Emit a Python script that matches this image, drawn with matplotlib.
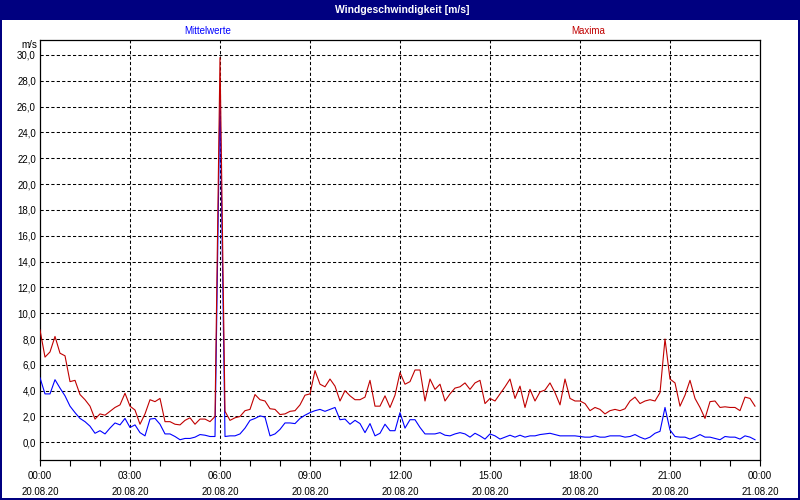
import numpy as np
import matplotlib
matplotlib.use("Agg")
import matplotlib.pyplot as plt
from matplotlib.patches import Rectangle
from matplotlib.ticker import MultipleLocator, FixedLocator

# ---- data (10-minute values, 20.08.20 00:00 .. 23:50) ----
maxima = [
    8.7, 6.6, 7.0, 8.2, 6.9, 6.7, 4.7, 4.8, 3.7, 3.3, 2.8, 1.8, 2.2, 2.1, 2.4, 2.7, 2.9, 3.8,
    2.8, 2.5, 1.4, 2.2, 3.3, 3.15, 3.4, 1.6, 1.6, 1.4, 1.35, 1.7, 1.9, 1.4, 1.8, 1.8, 1.6, 2.0,
    29.8, 2.4, 1.7, 1.9, 2.0, 2.45, 2.55, 3.7, 3.3, 3.2, 2.6, 2.55, 2.15, 2.2, 2.4, 2.45, 2.9, 3.65,
    3.75, 5.55, 4.5, 4.3, 4.9, 4.35, 3.2, 4.0, 3.6, 3.3, 3.3, 3.5, 4.8, 2.8, 2.8, 3.6, 2.7, 3.65,
    5.4, 4.5, 4.7, 5.6, 5.6, 3.2, 4.9, 4.1, 4.5, 3.2, 3.75, 4.2, 4.3, 4.6, 4.1, 4.6, 4.8, 3.0,
    3.4, 3.2, 3.75, 4.3, 4.9, 3.4, 4.35, 2.7, 4.1, 3.2, 3.9, 4.05, 4.6, 3.85, 2.9, 4.9, 3.4, 3.2,
    3.2, 3.0, 2.45, 2.7, 2.55, 2.2, 2.45, 2.55, 2.45, 2.6, 3.2, 3.5, 3.0, 3.2, 3.3, 3.2, 3.85, 8.0,
    4.9, 4.6, 2.8, 3.65, 4.8, 3.4, 2.7, 1.85, 3.15, 3.2, 2.7, 2.75, 2.7, 2.7, 2.45, 3.5, 3.4, 2.8,
]
mittel = [
    5.0, 3.75, 3.75, 4.85, 4.2, 3.6, 2.8, 2.3, 1.85, 1.6, 1.25, 0.7, 0.9, 0.65, 1.1, 1.5, 1.35, 1.85,
    1.15, 1.35, 0.75, 0.5, 1.8, 1.85, 1.4, 0.65, 0.65, 0.45, 0.2, 0.3, 0.3, 0.4, 0.6, 0.55, 0.45, 0.45,
    26.9, 0.45, 0.5, 0.5, 0.65, 1.1, 1.7, 1.85, 2.05, 1.95, 0.5, 0.65, 1.0, 1.5, 1.5, 1.45, 1.85, 2.1,
    2.3, 2.45, 2.55, 2.4, 2.55, 2.7, 1.75, 1.8, 1.4, 1.7, 1.45, 0.75, 1.45, 0.5, 0.7, 1.4, 0.9, 0.9,
    2.3, 1.1, 1.75, 1.75, 1.15, 0.65, 0.65, 0.65, 0.75, 0.55, 0.5, 0.65, 0.75, 0.65, 0.4, 0.7, 0.5, 0.25,
    0.65, 0.5, 0.25, 0.4, 0.55, 0.4, 0.55, 0.4, 0.5, 0.5, 0.6, 0.65, 0.7, 0.6, 0.5, 0.5, 0.5, 0.5,
    0.45, 0.4, 0.4, 0.5, 0.4, 0.4, 0.5, 0.5, 0.5, 0.4, 0.45, 0.6, 0.4, 0.25, 0.4, 0.7, 0.85, 2.7,
    0.95, 0.45, 0.4, 0.4, 0.25, 0.4, 0.6, 0.4, 0.4, 0.3, 0.2, 0.45, 0.4, 0.4, 0.25, 0.5, 0.4, 0.2,
]
hours = np.arange(len(maxima)) / 6.0

x_tick_hours = [0, 3, 6, 9, 12, 15, 18, 21, 24]
x_tick_labels = ["00:00\n20.08.20", "03:00\n20.08.20", "06:00\n20.08.20", "09:00\n20.08.20",
                 "12:00\n20.08.20", "15:00\n20.08.20", "18:00\n20.08.20", "21:00\n20.08.20",
                 "00:00\n21.08.20"]
y_ticks = np.arange(0, 31, 2)

title = "Windgeschwindigkeit [m/s]"
label_mittel = "Mittelwerte"
label_max = "Maxima"

NAVY = "#000080"
BLUE = "#0000FF"
RED = "#C00000"
FONT = "Liberation Sans"

plt.rcParams["font.family"] = [FONT, "DejaVu Sans"]
plt.rcParams["lines.scale_dashes"] = False

W, H = 800, 500
fig = plt.figure(figsize=(W / 100, H / 100), dpi=100)
fig.patch.set_facecolor("white")

def px(x0, y0, w, h):
    """figure-fraction rect from pixel coords (top-left origin)"""
    return (x0 / W, 1 - (y0 + h) / H, w / W, h / H)

ax = fig.add_axes(px(40, 40, 720, 420))
ax.plot(hours, mittel, color=BLUE, lw=0.8, zorder=3)
ax.plot(hours, maxima, color=RED, lw=0.8, zorder=4)

ax.set_xlim(0, 24)
ax.set_ylim(-1.37, 31.16)

ax.xaxis.set_major_locator(FixedLocator(x_tick_hours))
ax.xaxis.set_minor_locator(MultipleLocator(1))
ax.set_xticklabels(x_tick_labels, fontsize=7, linespacing=1.75)
ax.set_yticks(y_ticks)
ax.set_yticklabels([f"{v:.1f}".replace(".", ",") for v in y_ticks], fontsize=7)

ax.tick_params(axis="x", which="both", direction="out", length=4, width=0.8, pad=4, colors="black")
ax.tick_params(axis="y", which="both", length=0, pad=3)

grid_kw = dict(color="black", lw=0.75, linestyle=(0, (2.3, 1.6)), zorder=2)
for v in y_ticks:
    ax.axhline(v, **grid_kw)
for h in x_tick_hours[1:-1]:
    ax.axvline(h, **grid_kw)

for s in ax.spines.values():
    s.set_color("black")
    s.set_linewidth(0.9)

# title bar and frame
fig.patches.append(Rectangle((0, 1 - 20 / H), 1, 20 / H, transform=fig.transFigure,
                             facecolor=NAVY, edgecolor="none", zorder=0))
for r in [px(0, 0, 2, 500), px(798, 0, 2, 500), px(0, 498, 800, 2)]:
    fig.patches.append(Rectangle(r[:2], r[2], r[3], transform=fig.transFigure,
                                 facecolor=NAVY, edgecolor="none", zorder=0))

fig.text(402 / W, 1 - 10 / H, title, color="white", fontsize=7.5, fontweight="bold",
         ha="center", va="center")
fig.text(208 / W, 1 - 31 / H, label_mittel, color=BLUE, fontsize=7, ha="center", va="center")
fig.text(588 / W, 1 - 31 / H, label_max, color=RED, fontsize=7, ha="center", va="center")
fig.text(37 / W, 1 - 45 / H, "m/s", color="black", fontsize=7, ha="right", va="center")

fig.savefig("out.png", dpi=100)
